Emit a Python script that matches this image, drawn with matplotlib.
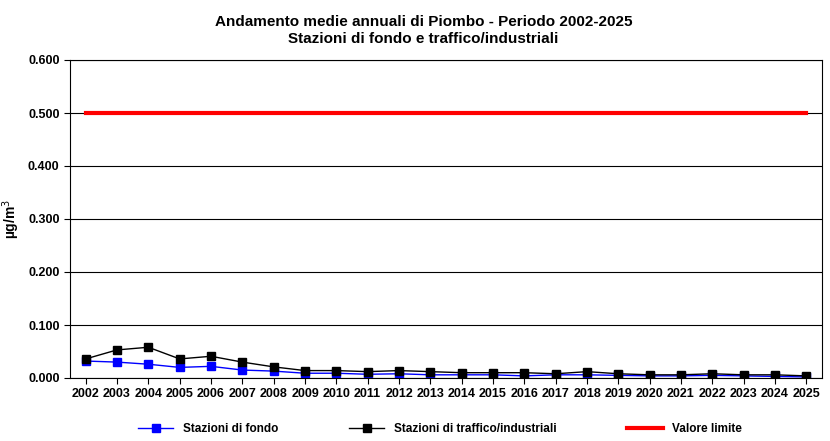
import matplotlib.pyplot as plt
import numpy as np

plt.rcParams["font.family"] = ["Liberation Sans", "DejaVu Sans"]

anni = [str(a) for a in range(2002, 2026)]
fondo = [0.032, 0.030, 0.026, 0.020, 0.022, 0.015, 0.013, 0.009, 0.009, 0.007, 0.008, 0.006,
         0.006, 0.006, 0.004, 0.006, 0.006, 0.005, 0.004, 0.004, 0.005, 0.004, 0.003, 0.002]
traffico = [0.036, 0.053, 0.058, 0.036, 0.041, 0.030, 0.021, 0.014, 0.014, 0.012, 0.014, 0.012,
            0.010, 0.010, 0.010, 0.008, 0.012, 0.008, 0.006, 0.006, 0.008, 0.006, 0.006, 0.004]
limite = [0.5] * len(anni)

fig = plt.figure(figsize=(8.3, 4.41), dpi=100)
ax = fig.add_axes([70 / 830, 1 - 378 / 441, 752 / 830, 318 / 441])
x = np.arange(len(anni))

ax.plot(x, fondo, color="#0000ff", marker="s", markersize=6, lw=1, label="Stazioni di fondo")
ax.plot(x, traffico, color="black", marker="s", markersize=6, lw=1,
        label="Stazioni di traffico/industriali")
ax.plot(x, limite, color="red", lw=3, label="Valore limite")

ax.set_xlim(-0.5, len(anni) - 0.5)
ax.set_ylim(0, 0.6)
ax.set_yticks(np.arange(0, 0.61, 0.1))
ax.set_yticklabels(["%.3f" % v for v in np.arange(0, 0.61, 0.1)], fontsize=9, fontweight="bold")
ax.set_xticks(x)
ax.set_xticklabels(anni, fontsize=9, fontweight="bold")
ax.grid(axis="y", color="black", lw=0.8)
ax.set_axisbelow(True)
ax.tick_params(direction="out", length=4)
ax.set_ylabel("µg/m$^3$", fontsize=10, fontweight="bold")

fig.suptitle("Andamento medie annuali di Piombo - Periodo 2002-2025\nStazioni di fondo e traffico/industriali",
             x=0.51, y=0.965, fontsize=11, fontweight="bold")

fig.legend(loc="lower center", ncol=3, frameon=False,
           bbox_to_anchor=(0.53, -0.01), columnspacing=6, handlelength=3,
           prop={"weight": "bold", "size": 8.5})

plt.savefig("out.png", dpi=100)
